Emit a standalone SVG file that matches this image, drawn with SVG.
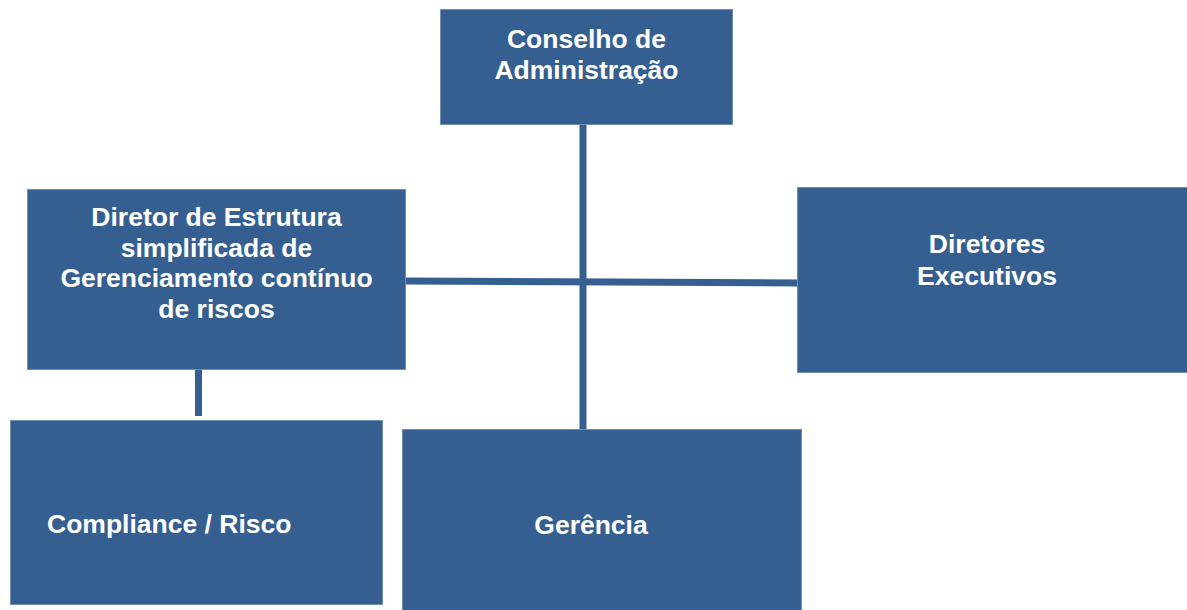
<svg xmlns="http://www.w3.org/2000/svg" width="1187" height="610" viewBox="0 0 1187 610">
<style>
.box{fill:#365F91;stroke:#6f8fb5;stroke-width:1}
.lbl{font-family:"Liberation Sans",Arial,sans-serif;font-weight:bold;font-size:26.5px;fill:#ffffff;text-anchor:middle}
.conn{stroke:#365F91;stroke-width:7;fill:none}
</style>
<rect width="1187" height="610" fill="#ffffff"/>
<g id="connectors">
<line class="conn" x1="583" y1="125" x2="583" y2="429"/>
<line class="conn" x1="405" y1="281" x2="797" y2="283"/>
<line class="conn" x1="198.5" y1="370" x2="198.5" y2="416"/>
</g>
<g id="conselho">
<rect class="box" x="440.5" y="9.5" width="292" height="115"/>
<text class="lbl" x="586.5" y="48">Conselho de</text>
<text class="lbl" x="586.5" y="79">Administração</text>
</g>
<g id="diretor-estrutura">
<rect class="box" x="27.5" y="189.5" width="378" height="180"/>
<text class="lbl" x="216.5" y="226">Diretor de Estrutura</text>
<text class="lbl" x="216.5" y="257">simplificada de</text>
<text class="lbl" x="216.5" y="287">Gerenciamento contínuo</text>
<text class="lbl" x="216.5" y="318">de riscos</text>
</g>
<g id="diretores-executivos">
<rect class="box" x="797.5" y="187.5" width="395" height="185"/>
<text class="lbl" x="987" y="253">Diretores</text>
<text class="lbl" x="987" y="285">Executivos</text>
</g>
<g id="compliance">
<rect class="box" x="10.5" y="420.5" width="372" height="184"/>
<text class="lbl" x="47" y="533" style="text-anchor:start">Compliance / Risco</text>
</g>
<g id="gerencia">
<rect class="box" x="402.5" y="429.5" width="399" height="190"/>
<text class="lbl" x="591" y="534">Gerência</text>
</g>
</svg>
